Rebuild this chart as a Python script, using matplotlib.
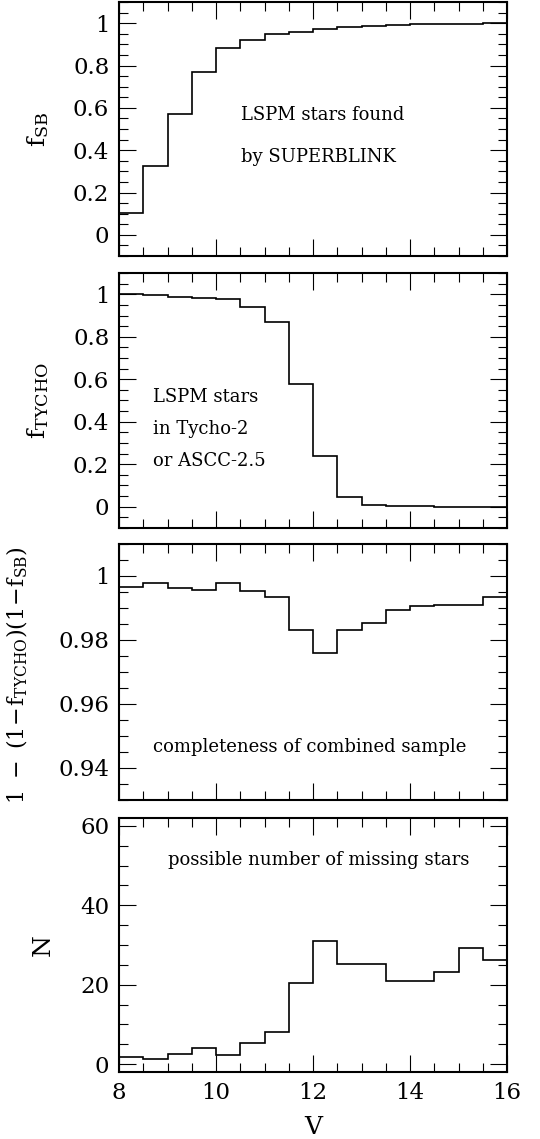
import numpy as np
import matplotlib
matplotlib.use("Agg")
import matplotlib.pyplot as plt
from matplotlib.ticker import MultipleLocator

# bin edges in V magnitude
V_EDGES = [8.0, 8.5, 9.0, 9.5, 10.0, 10.5, 11.0, 11.5, 12.0,
           12.5, 13.0, 13.5, 14.0, 14.5, 15.0, 15.5, 16.0]

# fraction of LSPM stars found by SUPERBLINK
F_SB = [0.103, 0.327, 0.570, 0.767, 0.883, 0.921, 0.949, 0.960,
        0.971, 0.984, 0.987, 0.991, 0.994, 0.995, 0.997, 1.000]

# fraction of LSPM stars in Tycho-2 / ASCC-2.5
F_TYCHO = [1.000, 0.995, 0.989, 0.981, 0.980, 0.940, 0.871, 0.576,
           0.238, 0.046, 0.009, 0.005, 0.002, 0.000, 0.000, 0.000]

# completeness of combined sample
COMPLETENESS = [0.9965, 0.9979, 0.9963, 0.9956, 0.9979, 0.9953, 0.9933, 0.9831,
                0.9760, 0.9831, 0.9852, 0.9894, 0.9905, 0.9909, 0.9908, 0.9934]

# possible number of missing stars
N_MISSING = [1.9, 1.4, 2.6, 4.0, 2.3, 5.2, 8.2, 20.5,
             31.1, 25.1, 25.1, 21.0, 21.0, 23.2, 29.2, 26.2]

plt.rcParams["font.family"] = ["DejaVu Serif"]
plt.rcParams["mathtext.fontset"] = "dejavuserif"

W, H = 540, 1139
fig = plt.figure(figsize=(W / 100, H / 100), dpi=100)

LEFT, RIGHT = 119, 507
panels_px = [(2, 256), (273, 528), (544, 800), (818, 1072)]
NOTE_SIZE = 13


def make_axes(top, bottom):
    return fig.add_axes([LEFT / W, 1 - bottom / H, (RIGHT - LEFT) / W, (bottom - top) / H])


def style_axes(ax, ymajor, yminor, show_x):
    ax.set_xlim(8, 16)
    ax.xaxis.set_major_locator(MultipleLocator(2))
    ax.xaxis.set_minor_locator(MultipleLocator(0.5))
    ax.yaxis.set_major_locator(MultipleLocator(ymajor))
    ax.yaxis.set_minor_locator(MultipleLocator(yminor))
    ax.tick_params(which="both", direction="in", top=True, right=True,
                   width=0.8, labelsize=16.5, pad=7)
    ax.tick_params(which="major", length=12)
    ax.tick_params(which="minor", length=6.5)
    if not show_x:
        ax.tick_params(labelbottom=False)
    for sp in ax.spines.values():
        sp.set_linewidth(1.5)


series = [F_SB, F_TYCHO, COMPLETENESS, N_MISSING]
axes = [make_axes(t, b) for t, b in panels_px]

for ax, vals in zip(axes, series):
    ax.stairs(vals, V_EDGES, color="black", linewidth=1.2, baseline=None)

# panel 1
ax = axes[0]
ax.set_ylim(-0.1, 1.1)
style_axes(ax, 0.2, 0.05, False)
ax.set_yticks([0, 0.2, 0.4, 0.6, 0.8, 1.0])
ax.set_yticklabels(["0", "0.2", "0.4", "0.6", "0.8", "1"])
ax.set_ylabel(r"$\mathrm{f}_{\mathrm{SB}}$", fontsize=18)
ax.yaxis.set_label_coords(-0.175, 0.5)
ax.text(10.52, 0.566, "LSPM stars found", fontsize=NOTE_SIZE, va="center")
ax.text(10.52, 0.37, "by SUPERBLINK", fontsize=NOTE_SIZE, va="center")

# panel 2
ax = axes[1]
ax.set_ylim(-0.1, 1.1)
style_axes(ax, 0.2, 0.05, False)
ax.set_yticks([0, 0.2, 0.4, 0.6, 0.8, 1.0])
ax.set_yticklabels(["0", "0.2", "0.4", "0.6", "0.8", "1"])
ax.set_ylabel(r"$\mathrm{f}_{\mathrm{TYCHO}}$", fontsize=18)
ax.yaxis.set_label_coords(-0.175, 0.5)
ax.text(8.70, 0.516, "LSPM stars", fontsize=NOTE_SIZE, va="center")
ax.text(8.70, 0.365, "in Tycho-2", fontsize=NOTE_SIZE, va="center")
ax.text(8.70, 0.216, "or ASCC-2.5", fontsize=NOTE_SIZE, va="center")

# panel 3
ax = axes[2]
ax.set_ylim(0.93, 1.01)
style_axes(ax, 0.02, 0.005, False)
ax.set_yticks([0.94, 0.96, 0.98, 1.0])
ax.set_yticklabels(["0.94", "0.96", "0.98", "1"])
ax.set_ylabel(r"$1\ -\ (1\!-\!\mathrm{f}_{\mathrm{TYCHO}})(1\!-\!\mathrm{f}_{\mathrm{SB}})$", fontsize=16)
ax.yaxis.set_label_coords(-0.23, 0.49)
ax.text(8.70, 0.9466, "completeness of combined sample", fontsize=NOTE_SIZE, va="center")

# panel 4
ax = axes[3]
ax.set_ylim(-2, 62)
style_axes(ax, 20, 5, True)
ax.set_ylabel("N", fontsize=18)
ax.yaxis.set_label_coords(-0.165, 0.5)
ax.set_xlabel("V", fontsize=18, labelpad=9)
ax.text(9.01, 51.3, "possible number of missing stars", fontsize=NOTE_SIZE, va="center")

fig.savefig("out.png", dpi=100)
